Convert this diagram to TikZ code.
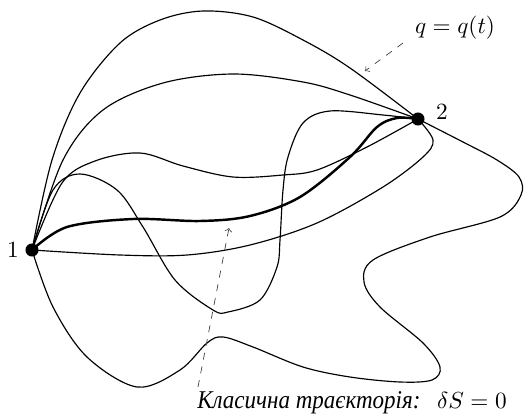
\documentclass[tikz,border=0pt]{standalone}
\usepackage{amsmath, amssymb}
\usepackage{fontspec}
\newfontfamily\cyrfont[FakeStretch=0.9]{Liberation Serif}
\usetikzlibrary{arrows,positioning}

\begin{document}
\begin{tikzpicture}[x=0.43pt,y=-0.43pt,
  dot/.style={circle,fill=black,inner sep=0pt,minimum size=5.6pt},
  path/.style={line width=0.5pt,smooth,tension=0.55},
  classic/.style={line width=1.05pt,smooth,tension=0.55},
  hint/.style={->,dashed,line width=0.3pt,black!75}]
  \useasboundingbox (0,0) rectangle (527,415);
  % ---------- end points
  \node[dot] (one) at (32,250) {};
  \node[dot] (two) at (418,119) {};
  \node (lone) at (13,250) {$1$};
  \node (ltwo) at (442,112) {$2$};
  % ---------- paths
  \draw[path] plot coordinates {(one.center) (52,160) (80,93) (120,43) (160,20) (203,11) (253,17) (303,40) (350,68) (two.center)};
  \draw[path] plot coordinates {(one.center) (63,160) (103,110) (163,83) (233,74) (303,82) (350,95) (two.center)};
  \draw[path] plot coordinates {(one.center) (62,183) (95,161) (140,153) (183,166) (233,177) (283,175) (317,170) (367,147) (two.center)};
  \draw[path] plot coordinates {(one.center) (120,255) (187,255) (250,245) (317,223) (383,187) (423,157) (433,140) (two.center)};
  \draw[path] plot coordinates {(one.center) (53,190) (80,174) (117,190) (143,227) (175,280) (213,310) (228,312) (260,300) (277,267) (280,240) (283,190) (288,157) (303,123) (330,111) (383,115) (two.center)};
  \draw[path] plot coordinates {(one.center) (53,307) (87,357) (137,387) (180,370) (207,343) (223,337) (253,347) (303,367) (350,377) (400,382) (432,380) (440,367) (423,343) (380,307) (364,282) (373,260) (430,237) (500,217) (521,195) (519,177) (497,160) (463,142) (two.center)};
  % ---------- classical path
  \draw[classic] plot coordinates {(one.center) (67,227) (133,219) (200,221) (250,216) (300,197) (350,157) (377,127) (397,118) (two.center)};
  % ---------- labels
  \node (qlab) at (455,28) {$q=q(t)$};
  \coordinate (qtail) at (403,43);
  \coordinate (qtip) at (365,71);
  \draw[hint] (qtail) -- (qtip);
  \node (clab) at (352,403) {{\cyrfont\fontsize{11pt}{13pt}\selectfont\itshape Класична траєкторія:}\; $\delta S=0$};
  \coordinate (ctail) at (198,387);
  \coordinate (ctip) at (229,228);
  \draw[hint] (ctail) -- (ctip);
\end{tikzpicture}
\end{document}
